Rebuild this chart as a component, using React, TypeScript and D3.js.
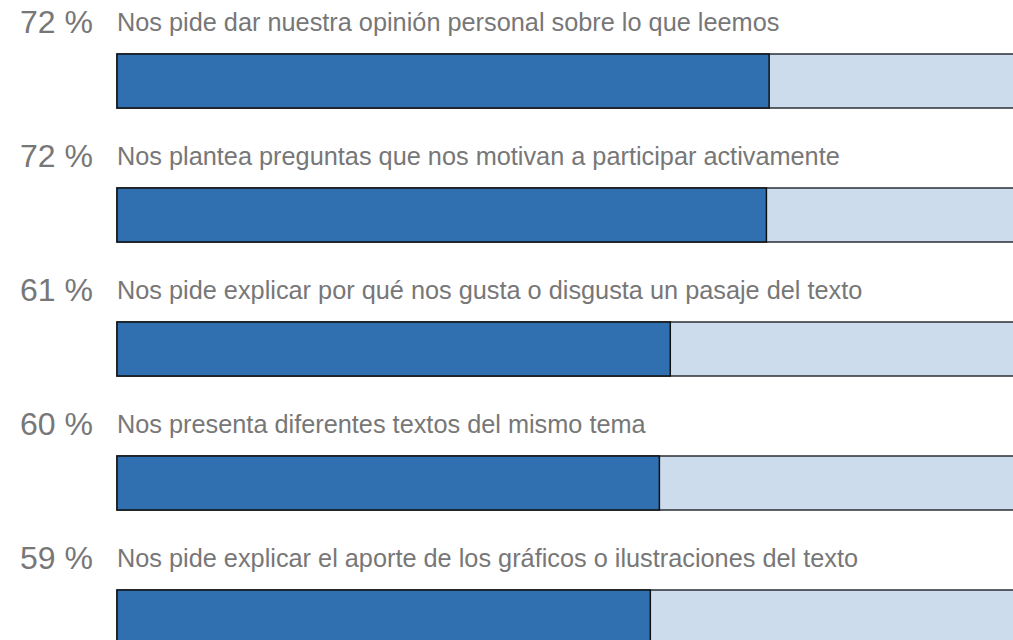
import React from "react";
import * as d3 from "d3";

const categories = [
  "Nos pide dar nuestra opinión personal sobre lo que leemos",
  "Nos plantea preguntas que nos motivan a participar activamente",
  "Nos pide explicar por qué nos gusta o disgusta un pasaje del texto",
  "Nos presenta diferentes textos del mismo tema",
  "Nos pide explicar el aporte de los gráficos o ilustraciones del texto",
];
const values = [71.9, 71.6, 61.0, 59.8, 58.8];
const labels = ["72 %", "72 %", "61 %", "60 %", "59 %"];

const W = 1013;
const H = 640;

export default function App() {
  const x = d3.scaleLinear().domain([0, 100]).range([117, 1024]);
  const y = d3
    .scaleBand<number>()
    .domain(d3.range(categories.length))
    .range([0, 134 * categories.length]);
  const barTop = 54;
  const barH = 54;
  const font = "'Liberation Sans', Arial, Helvetica, sans-serif";
  return (
    <div style={{ position: "fixed", left: 0, top: 0, width: W, height: H, overflow: "hidden", background: "#fff" }}>
      <svg width={W} height={H} style={{ display: "block" }}>
        {categories.map((c, i) => {
          const y0 = y(i)!;
          return (
            <g key={i}>
              <text
                x={93}
                y={y0 + 32.5}
                textAnchor="end"
                fontFamily={font}
                fontSize={32}
                fill="#777777"
              >
                {labels[i]}
              </text>
              <text x={117} y={y0 + 30.5} fontFamily={font} fontSize={25.3} fill="#777777">
                {c}
              </text>
              <rect
                x={x(0)}
                y={y0 + barTop}
                width={x(100) - x(0)}
                height={barH}
                fill="#ccdcec"
                stroke="#2a2f35"
                strokeWidth={1.5}
              />
              <rect
                x={x(0)}
                y={y0 + barTop}
                width={x(values[i]) - x(0)}
                height={barH}
                fill="#3070b0"
                stroke="#111"
                strokeWidth={1.5}
              />
            </g>
          );
        })}
      </svg>
    </div>
  );
}
